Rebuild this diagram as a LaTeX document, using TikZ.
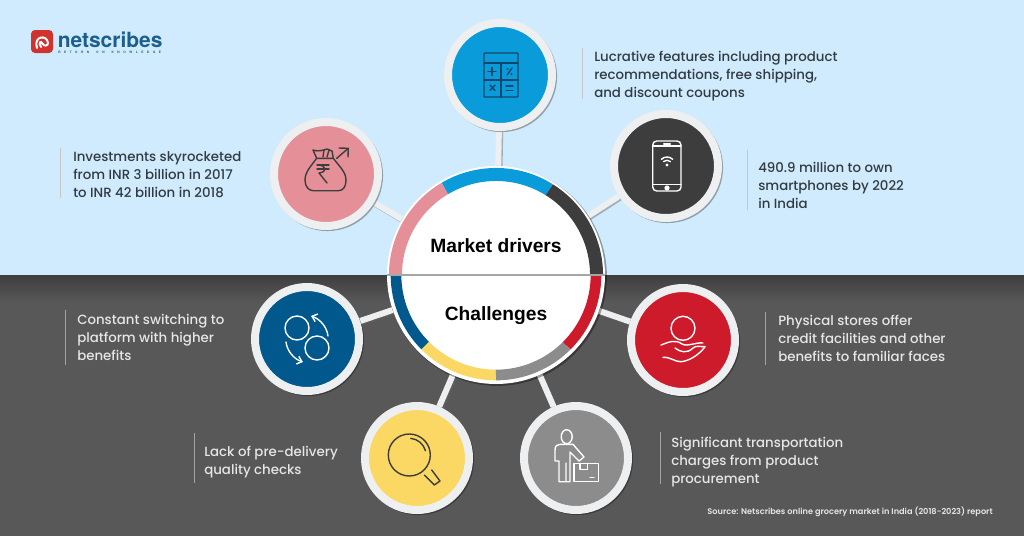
\documentclass[tikz,border=0pt]{standalone}
\usepackage{fontspec}
\setmainfont{Poppins}[UprightFont={* Medium},BoldFont={* SemiBold}]
\newfontfamily\headfont[BoldFont={Liberation Sans Bold}]{Liberation Sans}
\newfontfamily\logofont[BoldFont={TeX Gyre Heros Bold}]{TeX Gyre Heros}
\usetikzlibrary{shadows,calc,arrows.meta}
\pgfdeclarelayer{back}
\pgfsetlayers{back,main}
\definecolor{skyb}{HTML}{CFEBFD}
\definecolor{darkb}{HTML}{585858}
\definecolor{darktop}{HTML}{3E3E3E}
\definecolor{cblue}{HTML}{0A9BDA}
\definecolor{cpink}{HTML}{E58F98}
\definecolor{cdark}{HTML}{3D3D3D}
\definecolor{cnavy}{HTML}{00588C}
\definecolor{cyell}{HTML}{FBD764}
\definecolor{cgray}{HTML}{8C8C8C}
\definecolor{cred}{HTML}{CE1B2B}
\definecolor{ringc}{HTML}{EDEFF1}
\definecolor{inkup}{HTML}{333B42}
\definecolor{inklow}{HTML}{E6E6E6}
\definecolor{logob}{HTML}{1C5F8C}
\definecolor{logor}{HTML}{D2322D}
\definecolor{calcink}{HTML}{12476B}
\tikzset{
  bubble/.style={circle,minimum size=78pt,inner sep=0pt,line width=6pt,draw=ringc,fill=#1,
    drop shadow={shadow xshift=1pt,shadow yshift=-1pt,shadow scale=1.07,fill=black,opacity=.32}},
  link/.style={line width=4.5pt,draw=ringc},
  linksh/.style={line width=4.5pt,draw=black!60,opacity=.45,transform canvas={xshift=1pt,yshift=-1pt}},
  txtup/.style={anchor=north west,align=left,inner sep=0pt,text=inkup,font=\fontsize{10pt}{13.5pt}\selectfont},
  txtlow/.style={txtup,text=inklow},
  barup/.style={line width=.6pt,draw=black!22},
  barlow/.style={line width=.6pt,draw=white!45!darkb},
  head/.style={inner sep=0pt,text=black,font=\headfont\bfseries\fontsize{14.4pt}{16pt}\selectfont},
  ico/.style={line width=1.05pt,line cap=round,line join=round},
}
\newcommand{\hubseg}[5]{% colour, from, to, radius, width
  \draw[#1,line width=#5] ([shift={(#2:#4)}]hub.center) arc[start angle=#2,end angle=#3,radius=#4];}
\begin{document}
\begin{tikzpicture}[x=0.75pt,y=-0.75pt]
\useasboundingbox (0,0) rectangle (1024,536);
% hub and bubbles
\node[circle,minimum size=163.5pt,inner sep=0pt,fill=white,
  drop shadow={shadow xshift=1pt,shadow yshift=-1pt,shadow scale=1.005,fill=black,opacity=.35}] (hub) at (496,275) {};
\node[bubble=cblue] (nfeat) at (500,75) {};
\node[bubble=cpink] (ninv) at (326,174) {};
\node[bubble=cdark] (nphone) at (666,166) {};
\node[bubble=cnavy] (nswitch) at (307,339) {};
\node[bubble=cyell] (nqual) at (417,458) {};
\node[bubble=cgray] (ntrans) at (576,458) {};
\node[bubble=cred] (nstore) at (683,340) {};
\begin{pgfonlayer}{back}
  \fill[skyb] (0,0) rectangle (1024,275);
  \fill[darkb] (0,275) rectangle (1024,536);
  \shade[top color=darktop,bottom color=darkb] (0,275) rectangle (1024,302);
  \foreach \t in {nfeat,ninv,nphone,nswitch,nqual,ntrans,nstore}{
    \draw[linksh] (hub) -- (\t);
    \draw[link] (hub) -- (\t);
  }
\end{pgfonlayer}
% hub ring
\hubseg{cpink}{180}{120.5}{75.4pt}{9.75pt}
\hubseg{cblue}{120.5}{58}{75.4pt}{9.75pt}
\hubseg{cdark}{58}{0}{75.4pt}{9.75pt}
\hubseg{cnavy}{180}{225}{75pt}{8pt}
\hubseg{cyell}{225}{270}{75pt}{8pt}
\hubseg{cgray}{270}{315}{75pt}{8pt}
\hubseg{cred}{315}{360}{75pt}{8pt}
\draw[black!35,line width=.9pt] (hub.west) -- (hub.east);
\node[head] (tdrivers) at (496,246) {Market drivers};
\node[head] (tchall) at (496,316) {Challenges};
% calculator
\begin{scope}[shift={(nfeat.center)},ico,draw=calcink,color=calcink]
  \draw[rounded corners=.6pt] (-16,-22) rectangle (18,22);
  \draw (-16,-12) -- (18,-12) (-16,5) -- (18,5) (1,-12) -- (1,22);
  \draw (-12,-3.5) -- (-4,-3.5) (-8,-7.5) -- (-8,.5);
  \draw (7,0) -- (12,-7);
  \fill (7.5,-6) circle[radius=1.2] (11.5,-1) circle[radius=1.2];
  \draw (-10,10) -- (-5,15.5) (-5,10) -- (-10,15.5);
  \draw (6,11) -- (13,11) (6,15.5) -- (13,15.5);
\end{scope}
% money bag
\begin{scope}[shift={(ninv.center)},ico,draw=cdark]
  \draw (-9.3,-15.7) .. controls (-15,-8) and (-21,-2) .. (-21,6) .. controls (-21,13) and (-17,16.7) .. (-12.7,16.7) -- (12.3,16.7) .. controls (17,16.7) and (20,13) .. (20,6) .. controls (20,-2) and (13,-8) .. (7.3,-15.7) -- cycle;
  \draw (-9.3,-15.7) -- (-13,-24) .. controls (-8,-22) and (-2,-24) .. (1,-25) -- (6,-23) -- (7.3,-15.7);
  \draw (-2,-24) -- (-3,-17) (3,-24) -- (1,-17);
  \draw (-9,-9) -- (3,-9) (-9,-5) -- (3,-5);
  \draw (-8,-9) .. controls (0,-9) and (2,-2) .. (-7,-1) -- (1,9);
  \draw (10.7,-15.7) -- (22.3,-25.7) (13,-26) -- (22.3,-25.7) -- (22,-17);
\end{scope}
% phone
\begin{scope}[shift={(nphone.center)},ico,draw=white,color=white]
  \draw[rounded corners=3pt] (-13.3,-25) rectangle (15,25);
  \draw (-13.3,-20) -- (15,-20) (-13.3,18.5) -- (15,18.5);
  \draw[line width=1.6pt] (-2,-22.3) -- (4,-22.3);
  \fill (1,22) circle[radius=2.6];
  \draw ([shift={(135:6pt)}]1,-1) arc[start angle=135,end angle=45,radius=6pt];
  \draw ([shift={(135:3.6pt)}]1,-1) arc[start angle=135,end angle=45,radius=3.6pt];
  \fill (1,-1) circle[radius=1.6];
\end{scope}
% switching
\begin{scope}[shift={(nswitch.center)},ico,draw=white]
  \draw (-10,-11) circle[radius=12];
  \draw (10,9) circle[radius=12];
  \draw[-{Straight Barb[length=3.5pt,width=6pt]}] (21,-3) .. controls (20,-12) and (13,-20) .. (4,-23);
  \draw[-{Straight Barb[length=3.5pt,width=6pt]}] (-21,3) .. controls (-20,12) and (-13,20) .. (-4,23);
\end{scope}
% magnifier
\begin{scope}[shift={(nqual.center)},ico,draw=cdark]
  \draw (-7.7,-3) circle[radius=21];
  \draw ([shift={(85:12.5pt)}]-7.7,-3) arc[start angle=85,end angle=15,radius=12.5pt];
  \draw (14.7,12) -- (23,23) -- (17.3,27) -- (7.3,17);
\end{scope}
% person and box
\begin{scope}[shift={(ntrans.center)},ico,draw=white]
  \draw (-9.3,-21.3) ellipse[x radius=5.5,y radius=7];
  \draw (-17,23.7) -- (-17,3) -- (-21,3) -- (-21,-8) .. controls (-21,-12) and (-19,-13.7) .. (-16,-13.7) -- (-3,-13.7) -- (8,-1) -- (3,3) -- (-6,-6) -- (-6,23.7) -- (-10,23.7) -- (-10,5) (-10,23.7) -- (-17,23.7);
  \draw (-2,5.3) rectangle (22.3,23.7);
  \draw (4,5.3) -- (4,11.3) -- (11.3,11.3) -- (11.3,5.3);
  \draw (14,19.3) -- (18,19.3);
\end{scope}
% hand
\begin{scope}[shift={(nstore.center)},ico,draw=white]
  \draw (0,-11.7) circle[radius=12];
  \draw (-22,5) .. controls (-14,2) and (-8,-1) .. (-1,4) .. controls (4,7) and (14,2) .. (20,3);
  \draw (-8,8) .. controls (-3,12) and (4,14) .. (10,8) .. controls (13,5) and (18,7) .. (22,6.7);
  \draw (-20,17.3) .. controls (-12,17) and (-8,22) .. (-2,21.7) .. controls (6,21) and (16,15) .. (22,6.7);
\end{scope}
% texts
\draw[barup] (60,148) -- (60,198);
\node[txtup] (tinv) at (73,151) {Investments skyrocketed\\from INR 3 billion in 2017\\to INR 42 billion in 2018};
\draw[barup] (582,48) -- (582,99);
\node[txtup] (tfeat) at (594,51) {Lucrative features including product\\recommendations, free shipping,\\and discount coupons};
\draw[barup] (747,150) -- (747,210);
\node[txtup] (tphone) at (758,162) {490.9 million to own\\smartphones by 2022\\in India};
\draw[barlow] (65,310) -- (65,365);
\node[txtlow] (tswitch) at (77,314) {Constant switching to\\platform with higher\\benefits};
\draw[barlow] (194,433) -- (194,483);
\node[txtlow] (tqual) at (204,446) {Lack of pre-delivery\\quality checks};
\draw[barlow] (765,312) -- (765,365);
\node[txtlow] (tstore) at (778,315) {Physical stores offer\\credit facilities and other\\benefits to familiar faces};
\draw[barlow] (660,432) -- (660,484);
\node[txtlow] (ttrans) at (671,437) {Significant transportation\\charges from product\\procurement};
\node[anchor=east,inner sep=0pt,text=inklow,font=\bfseries\fontsize{6.15pt}{8pt}\selectfont] (tsource) at (993,512) {Source: Netscribes online grocery market in India (2018-2023) report};
% logo
\fill[logor,rounded corners=3pt] (31,30) rectangle (53,53);
\draw[white,line width=1.5pt,line cap=round] (37,48) .. controls (33,36) and (47,34) .. (48,43) .. controls (48,46) and (44,47) .. (42,43) .. controls (41,41) and (38,42) .. (41,47);
\node[anchor=west,inner sep=0pt,text=logob,font=\logofont\bfseries\fontsize{15.7pt}{16pt}\selectfont] (tlogo) at (57.5,40) {netscribes};
\node[anchor=west,inner sep=0pt,text=logob,font=\logofont\bfseries\fontsize{2.4pt}{3pt}\selectfont] (tlogosub) at (58,52.5) {\hbox to 77pt{R\hfil E\hfil T\hfil U\hfil R\hfil N\hfil\hfil O\hfil N\hfil\hfil K\hfil N\hfil O\hfil W\hfil L\hfil E\hfil D\hfil G\hfil E}};
\end{tikzpicture}
\end{document}
